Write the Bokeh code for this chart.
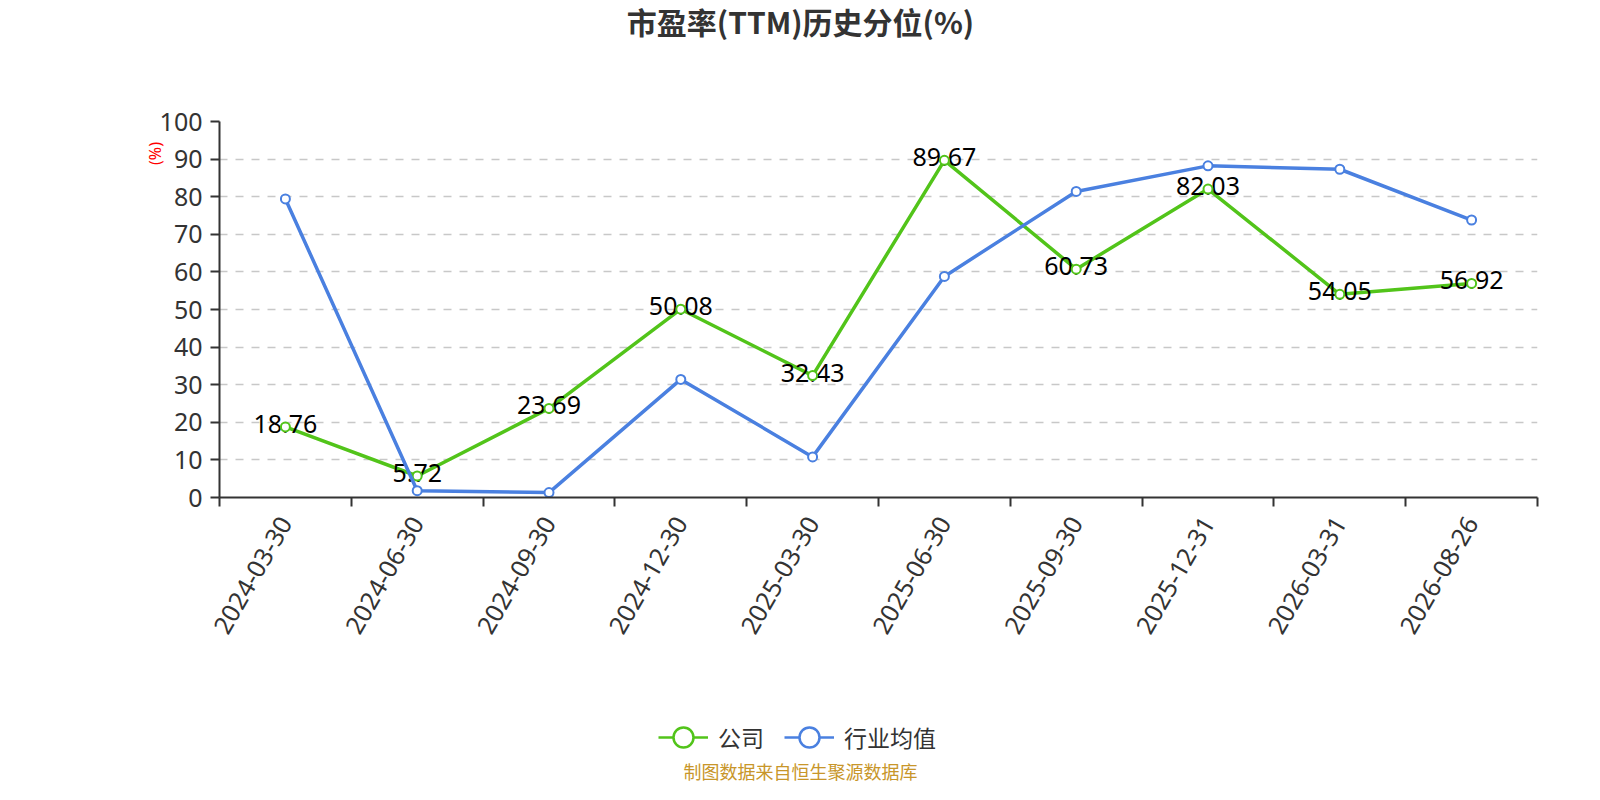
import math
from bokeh.plotting import figure
from bokeh.layouts import column
from bokeh.models import (FactorRange, Range1d, LinearAxis, FixedTicker, Grid,
                          Legend, LegendItem, Label, ColumnDataSource)
from bokeh.embed import file_html
from bokeh.resources import INLINE
from bokeh.core.properties import value

# ---------------- data ----------------
dates = ["2024-03-30", "2024-06-30", "2024-09-30", "2024-12-30", "2025-03-30",
         "2025-06-30", "2025-09-30", "2025-12-31", "2026-03-31", "2026-08-26"]
company = [18.76, 5.72, 23.69, 50.08, 32.43, 89.67, 60.73, 82.03, 54.05, 56.92]
industry = [79.4, 1.8, 1.3, 31.4, 10.8, 58.8, 81.4, 88.2, 87.3, 73.8]
y_ticks = list(range(0, 101, 10))
series_names = ["公司", "行业均值"]
title_text = "市盈率(TTM)历史分位(%)"
y_name = "(%)"
footer_text = "制图数据来自恒生聚源数据库"

# ---------------- styles / layout ----------------
GREEN = "#52c41a"
BLUE = "#4a80e0"
AXIS = "#333333"
CJK = "Noto Sans CJK SC"
NUM = "Noto Sans"
W = 1584
FL, FR = 219, 1537          # frame left / right in page pixels
H_TOP, H_MAIN, H_FOOT = 60, 600, 124


def strip(h):
    s = figure(width=W, height=h, x_range=Range1d(FL, FR), y_range=Range1d(0, h),
               x_axis_type=None, y_axis_type=None, output_backend="svg",
               toolbar_location=None, min_border_left=FL, min_border_right=W - FR,
               min_border_top=0, min_border_bottom=0)
    s.outline_line_color = None
    s.xgrid.visible = False
    s.ygrid.visible = False
    return s


# ---- title strip ----
t = strip(H_TOP)
t.add_layout(Label(x=800, y=H_TOP - 20.5, text=title_text, text_align="center",
                   text_baseline="middle", text_font_size="30px",
                   text_font_style="bold", text_color=AXIS, text_font=CJK))

# ---- main chart ----
p = figure(width=W, height=H_MAIN,
           x_range=FactorRange(factors=dates), y_range=Range1d(0, 100),
           x_axis_type=None, y_axis_type=None,
           output_backend="svg", toolbar_location=None,
           min_border_left=FL, min_border_right=W - FR,
           min_border_top=121 - H_TOP, min_border_bottom=H_MAIN - (497 - H_TOP))
p.outline_line_color = None
p.background_fill_color = "white"
p.border_fill_color = "white"

# axis name sits a little below the top end of the axis (padding with em spaces)
yaxis = LinearAxis(ticker=FixedTicker(ticks=y_ticks, minor_ticks=[]),
                   axis_line_color=AXIS, axis_line_width=2,
                   major_tick_line_color=AXIS, major_tick_line_width=2,
                   major_tick_in=0, major_tick_out=9,
                   minor_tick_line_color=None,
                   major_label_standoff=8,
                   major_label_text_font_size="25px",
                   major_label_text_color=AXIS,
                   major_label_text_font=NUM,
                   axis_label=y_name + "\u2003" * 4, axis_label_standoff=-9,
                   axis_label_text_color="red",
                   axis_label_text_font_size="16px",
                   axis_label_text_font_style="normal",
                   axis_label_text_font=NUM)
try:
    yaxis.axis_label_align = "end"
except Exception:
    pass
p.add_layout(yaxis, "left")

centers = [i + 0.5 for i in range(len(dates))]
bounds = [float(i) for i in range(len(dates) + 1)]
xaxis = LinearAxis(ticker=FixedTicker(ticks=centers, minor_ticks=bounds),
                   major_label_overrides={c: d for c, d in zip(centers, dates)},
                   axis_line_color=AXIS, axis_line_width=2,
                   major_tick_line_color=None, major_tick_in=0, major_tick_out=0,
                   minor_tick_line_color=AXIS, minor_tick_line_width=2,
                   minor_tick_in=0, minor_tick_out=9,
                   major_label_standoff=12,
                   major_label_orientation=math.pi / 3,
                   major_label_text_font_size="25px",
                   major_label_text_color=AXIS,
                   major_label_text_font=NUM)
p.add_layout(xaxis, "below")

grid = Grid(dimension=1, ticker=FixedTicker(ticks=y_ticks),
            grid_line_color="#c8c8c8", grid_line_width=1.5,
            grid_line_dash="8 8")
p.add_layout(grid)

src = ColumnDataSource(dict(x=dates, company=company, industry=industry,
                            lab=[f"{v:.2f}" for v in company]))

p.line("x", "company", source=src, line_color=GREEN, line_width=3.5,
       line_join="round")
p.text("x", "company", text="lab", source=src, text_align="center",
       text_baseline="middle", y_offset=-3, text_font_size="25px",
       text_color="black", text_font=value(NUM))
p.scatter("x", "company", source=src, marker="circle", size=9,
          fill_color="white", line_color=GREEN, line_width=2)
p.line("x", "industry", source=src, line_color=BLUE, line_width=3.5,
       line_join="round")
p.scatter("x", "industry", source=src, marker="circle", size=9,
          fill_color="white", line_color=BLUE, line_width=2)

# ---- legend + footer strip ----
f = strip(H_FOOT)
# hidden proxy renderers (same style as the series) used only for legend glyphs
gl = f.line("company", "industry", source=src, line_color=GREEN, line_width=2.5, visible=False)
gs = f.scatter("company", "industry", source=src, marker="circle", fill_color="white",
               line_color=GREEN, line_width=2.5, visible=False)
bl = f.line("company", "industry", source=src, line_color=BLUE, line_width=2.5, visible=False)
bs = f.scatter("company", "industry", source=src, marker="circle", fill_color="white",
               line_color=BLUE, line_width=2.5, visible=False)
legend = Legend(items=[LegendItem(label=series_names[0], renderers=[gl, gs]),
                       LegendItem(label=series_names[1], renderers=[bl, bs])],
                orientation="horizontal", location=(658 - FL, 22),
                glyph_width=50, glyph_height=50, label_standoff=10, spacing=20,
                padding=0, margin=0, border_line_color=None,
                background_fill_alpha=0,
                label_text_font_size="23px", label_text_color=AXIS,
                label_text_font=CJK, label_text_baseline="middle")
f.add_layout(legend)
f.add_layout(Label(x=800, y=14, text=footer_text, text_align="center",
                   text_baseline="middle", text_font_size="18px",
                   text_color="#c8962a", text_font=CJK))

layout = column(t, p, f, spacing=0)
open("out.html", "w").write(file_html(layout, INLINE))
